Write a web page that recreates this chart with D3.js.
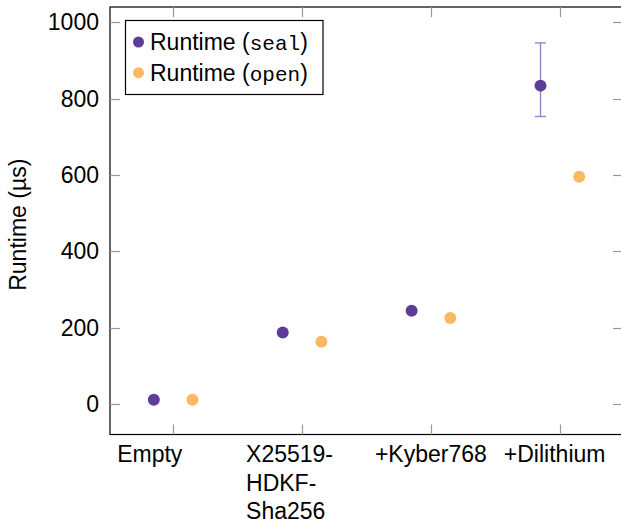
<!DOCTYPE html>
<html>
<head>
<meta charset="utf-8">
<script src="https://cdn.jsdelivr.net/npm/d3@7/dist/d3.min.js"></script>
<style>
  html, body { margin: 0; padding: 0; background: #fff; }
  svg { display: block; }
  text { font-family: "Liberation Sans", Arial, Helvetica, sans-serif; fill: #000; }
</style>
</head>
<body>
<svg id="chart" width="621" height="524"></svg>
<script>
// ---- data ----
const categories = [["Empty"], ["X25519-", "HDKF-", "Sha256"], ["+Kyber768"], ["+Dilithium"]];
const sealValues = [11, 187, 244, 834];
const sealErrLow = [null, null, null, 753];
const sealErrHigh = [null, null, null, 946];
const openValues = [11, 163, 225, 595];
const yTicks = [0, 200, 400, 600, 800, 1000];
const seriesNames = [["Runtime (", "seal", ")"], ["Runtime (", "open", ")"]];
const seriesColors = ["#5e3c99", "#fdb863"];

// ---- layout ----
const svg = d3.select("#chart");
const pL = 110, pR = 623, pT = 7, pB = 434.5;
const x = d3.scaleLinear().domain([-0.49, 3.49]).range([pL, pR]);
const y = d3.scaleLinear().domain([-80, 1040]).range([pB, pT]);
const offset = 0.15;
const fontSize = 23;

// frame
svg.append("rect").attr("x", pL).attr("y", pT)
  .attr("width", pR - pL).attr("height", pB - pT)
  .attr("fill", "none").attr("stroke", "#000").attr("stroke-width", 1.2);

// y axis ticks (left and right, inward)
const tickColor = "#999";
const tl = 10;
yTicks.forEach(v => {
  const yy = Math.round(y(v)) + 0.5;
  svg.append("line").attr("x1", pL).attr("x2", pL + tl).attr("y1", yy).attr("y2", yy)
    .attr("stroke", tickColor).attr("stroke-width", 1.2);
  svg.append("line").attr("x1", pR - tl).attr("x2", pR).attr("y1", yy).attr("y2", yy)
    .attr("stroke", tickColor).attr("stroke-width", 1.2);
  svg.append("text").attr("x", 99).attr("y", y(v)).attr("dy", "0.35em")
    .attr("text-anchor", "end").style("font-size", fontSize + "px").text(v);
});

// x axis ticks (top and bottom, inward)
categories.forEach((c, i) => {
  const xx = Math.round(x(i)) + 0.5;
  svg.append("line").attr("x1", xx).attr("x2", xx).attr("y1", pB).attr("y2", pB - tl)
    .attr("stroke", tickColor).attr("stroke-width", 1.2);
  svg.append("line").attr("x1", xx).attr("x2", xx).attr("y1", pT).attr("y2", pT + tl)
    .attr("stroke", tickColor).attr("stroke-width", 1.2);
  const t = svg.append("text").attr("x", x(i) - 56).attr("y", 462)
    .style("font-size", fontSize + "px");
  c.forEach((line, j) => {
    t.append("tspan").attr("x", x(i) - 56).attr("y", 462 + j * 28.5).text(line);
  });
});

// y label
svg.append("text")
  .attr("transform", `translate(26, ${(pT + pB) / 2 + 4}) rotate(-90)`)
  .attr("text-anchor", "middle").style("font-size", fontSize + "px")
  .text("Runtime (µs)");

// error bars
const errColor = "#9a86c4";
sealValues.forEach((v, i) => {
  if (sealErrLow[i] == null) return;
  const xx = x(i - offset);
  svg.append("line").attr("x1", xx).attr("x2", xx)
    .attr("y1", y(sealErrLow[i])).attr("y2", y(sealErrHigh[i]))
    .attr("stroke", errColor).attr("stroke-width", 1.4);
  [sealErrLow[i], sealErrHigh[i]].forEach(e => {
    svg.append("line").attr("x1", xx - 5.5).attr("x2", xx + 5.5)
      .attr("y1", y(e)).attr("y2", y(e))
      .attr("stroke", errColor).attr("stroke-width", 1.4);
  });
});

// points
svg.selectAll("circle.seal").data(sealValues).enter().append("circle")
  .attr("class", "seal")
  .attr("cx", (d, i) => x(i - offset)).attr("cy", d => y(d)).attr("r", 6)
  .attr("fill", seriesColors[0]);
svg.selectAll("circle.open").data(openValues).enter().append("circle")
  .attr("class", "open")
  .attr("cx", (d, i) => x(i + offset)).attr("cy", d => y(d)).attr("r", 6)
  .attr("fill", seriesColors[1]);

// legend
const lg = svg.append("g");
lg.append("rect").attr("x", 125.5).attr("y", 20.5).attr("width", 197.5).attr("height", 74)
  .attr("fill", "#fff").attr("stroke", "#000").attr("stroke-width", 1.2);
seriesNames.forEach((n, k) => {
  const cy = 42 + k * 30.7;
  lg.append("circle").attr("cx", 138.5).attr("cy", cy).attr("r", 5.5).attr("fill", seriesColors[k]);
  const t = lg.append("text").attr("x", 150).attr("y", cy + 8).style("font-size", fontSize + "px");
  t.append("tspan").text(n[0]);
  t.append("tspan").style("font-family", "'Liberation Mono', 'DejaVu Sans Mono', monospace")
    .style("font-size", "21px").text(n[1]);
  t.append("tspan").text(n[2]);
});
</script>
</body>
</html>
